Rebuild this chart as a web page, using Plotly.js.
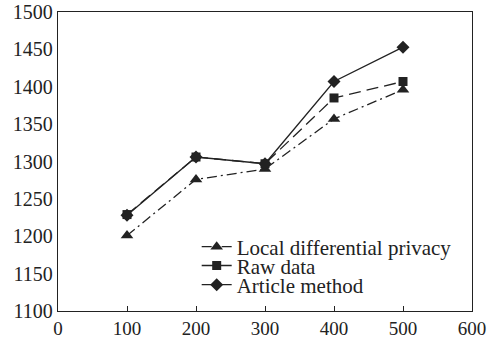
<!DOCTYPE html>
<html>
<head>
<meta charset="utf-8">
<script src="https://cdn.plot.ly/plotly-3.0.1.min.js"></script>
<style>html,body{margin:0;padding:0;background:#fff;}#chart{width:487px;height:342px;}</style>
</head>
<body>
<div id="chart"></div>
<script>
var xValues = [100, 200, 300, 400, 500];
var ldpValues = [1201, 1276, 1290, 1357, 1396];
var rawValues = [1229, 1306, 1297, 1385, 1407];
var articleValues = [1228, 1306, 1297, 1407, 1453];
var seriesNames = ["Local differential privacy", "Raw data", "Article method"];
var xTicks = [0, 100, 200, 300, 400, 500, 600];
var yTicks = [1100, 1150, 1200, 1250, 1300, 1350, 1400, 1450, 1500];

var col = '#222';
var traces = [
  {x: xValues, y: ldpValues, name: seriesNames[0], mode: 'lines+markers', legend: 'legend',
   line: {color: col, width: 1.3, dash: '10px,4px,2px,4px'},
   marker: {symbol: 'triangle-up', size: 11, color: col}},
  {x: xValues, y: rawValues, name: seriesNames[1], mode: 'lines+markers', legend: 'legend2',
   line: {color: col, width: 1.3, dash: '12px,6px'},
   marker: {symbol: 'square', size: 9, color: col}},
  {x: xValues, y: articleValues, name: seriesNames[2], mode: 'lines+markers', legend: 'legend3',
   line: {color: col, width: 1.3},
   marker: {symbol: 'diamond', size: 10, color: col}}
];
function leg(y) {
  return {x: 0.335, y: y, xanchor: 'left', yanchor: 'middle', bgcolor: 'rgba(0,0,0,0)',
          font: {size: 21}, borderwidth: 0};
}
var layout = {
  width: 487, height: 342,
  margin: {l: 58, r: 15, t: 12, b: 31},
  paper_bgcolor: '#fff', plot_bgcolor: '#fff',
  font: {family: 'Liberation Serif, Times New Roman, serif', size: 20, color: '#222'},
  showlegend: true,
  legend: leg(0.214),
  legend2: leg(0.151),
  legend3: leg(0.087),
  xaxis: {range: [0, 600], tickvals: xTicks, ticks: 'inside', ticklen: 5, tickcolor: col,
          ticklabeloverflow: 'allow', tickfont: {size: 19},
          showline: true, linecolor: col, linewidth: 1.3, mirror: true, showgrid: false, zeroline: false},
  yaxis: {range: [1100, 1500], tickvals: yTicks, ticks: '', showline: true, linecolor: col,
          ticklabeloverflow: 'allow', tickfont: {size: 20},
          linewidth: 1.3, mirror: true, showgrid: false, zeroline: false}
};
Plotly.newPlot('chart', traces, layout, {displayModeBar: false, staticPlot: true});
</script>
</body>
</html>
